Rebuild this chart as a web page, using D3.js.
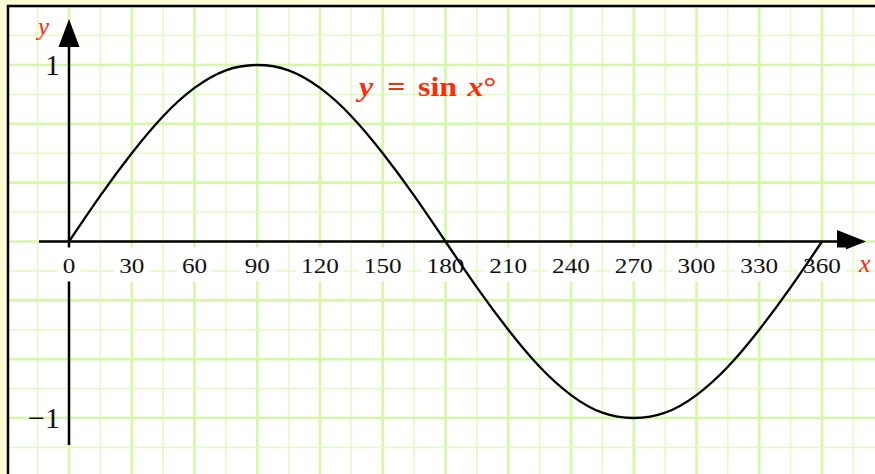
<!DOCTYPE html>
<html>
<head>
<meta charset="utf-8">
<script src="https://cdn.jsdelivr.net/npm/d3@7"></script>
<style>
  html, body { margin: 0; padding: 0; background: #fffcd4; }
  svg { display: block; }
</style>
</head>
<body>
<div id="chart"></div>
<script>
// data (degrees, sin value)
var angles = [0, 15, 30, 45, 60, 75, 90, 105, 120, 135, 150, 165, 180,
              195, 210, 225, 240, 255, 270, 285, 300, 315, 330, 345, 360];
var sinValues = [0, 0.26, 0.5, 0.71, 0.87, 0.97, 1, 0.97, 0.87, 0.71, 0.5, 0.26, 0,
                 -0.26, -0.5, -0.71, -0.87, -0.97, -1, -0.97, -0.87, -0.71, -0.5, -0.26, 0];
var xTicks = [0, 30, 60, 90, 120, 150, 180, 210, 240, 270, 300, 330, 360];
var yTicks = [1, -1];
var yTickLabels = ["1", "\u22121"];

var W = 875, H = 474;
var red = "#ff2a06";
var serif = "'Liberation Serif', 'Times New Roman', serif";

var svg = d3.select("#chart").append("svg")
    .attr("width", W)
    .attr("height", H);

// scales
var x = d3.scaleLinear().domain([0, 360]).range([69, 822]);
var y = d3.scaleLinear().domain([-1, 1]).range([418, 65]);

// paper area
svg.append("clipPath").attr("id", "paper")
  .append("rect").attr("x", 8).attr("y", 6).attr("width", W).attr("height", H);

var paper = svg.append("g").attr("clip-path", "url(#paper)");
paper.append("rect")
    .attr("x", 8).attr("y", 6).attr("width", W).attr("height", H)
    .attr("fill", "#ffffff");

// grid
var vLines = d3.range(-30, 391, 15);
paper.selectAll(".vgrid")
    .data(vLines)
  .enter().append("line")
    .attr("class", "vgrid")
    .attr("x1", function(d) { return x(d); })
    .attr("x2", function(d) { return x(d); })
    .attr("y1", 0).attr("y2", H)
    .attr("stroke", function(d) { return d % 30 == 0 ? "#d4f8a6" : "#e0fac0"; })
    .attr("stroke-width", function(d) { return d % 30 == 0 ? 2.6 : 1.5; });

var hLines = d3.range(-8, 9);
paper.selectAll(".hgrid")
    .data(hLines)
  .enter().append("line")
    .attr("class", "hgrid")
    .attr("y1", function(d) { return y(d / 6); })
    .attr("y2", function(d) { return y(d / 6); })
    .attr("x1", 0).attr("x2", W)
    .attr("stroke", function(d) { return d % 2 == 0 ? "#d4f8a6" : "#e0fac0"; })
    .attr("stroke-width", function(d) { return d % 2 == 0 ? 2.6 : 1.5; });

// border
svg.append("line").attr("x1", 8).attr("x2", 8).attr("y1", 5).attr("y2", H)
    .attr("stroke", "#000").attr("stroke-width", 2.5);
svg.append("line").attr("x1", 7).attr("x2", W).attr("y1", 6).attr("y2", 6)
    .attr("stroke", "#000").attr("stroke-width", 2.5);

// axes
var axes = svg.append("g");
axes.append("line")
    .attr("x1", 39).attr("x2", 840)
    .attr("y1", y(0)).attr("y2", y(0))
    .attr("stroke", "#000").attr("stroke-width", 2.5);
axes.append("path")
    .attr("d", "M837," + (y(0) - 11.5) + "L866," + y(0) + "L837," + (y(0) + 11.5) + "Z")
    .attr("fill", "#000");
axes.append("line")
    .attr("x1", x(0)).attr("x2", x(0))
    .attr("y1", 445).attr("y2", 44)
    .attr("stroke", "#000").attr("stroke-width", 2.5);
axes.append("path")
    .attr("d", "M" + (x(0) - 10.5) + ",47L" + x(0) + ",19L" + (x(0) + 10.5) + ",47Z")
    .attr("fill", "#000");

// x tick labels with white backing
var xLab = svg.append("g");
xTicks.forEach(function(t) {
    var g = xLab.append("g");
    var bg = g.append("rect").attr("fill", "#ffffff");
    var txt = g.append("text")
        .attr("transform", "translate(" + x(t) + "," + (y(0) + 31) + ") scale(1.2,1)")
        .attr("text-anchor", "middle")
        .attr("font-family", serif)
        .attr("font-size", "21px")
        .attr("fill", "#111")
        .text(t);
    var bb = txt.node().getBBox();
    var w = bb.width * 1.2;
    bg.attr("x", x(t) - w / 2 - 5)
      .attr("width", w + 10)
      .attr("y", y(0) + 6)
      .attr("height", 34);
});

// y tick labels
svg.selectAll(".ylab")
    .data(yTicks)
  .enter().append("text")
    .attr("class", "ylab")
    .attr("x", x(0) - 9)
    .attr("y", function(d) { return y(d) + 10; })
    .attr("text-anchor", "end")
    .attr("font-family", serif)
    .attr("font-size", "30px")
    .attr("fill", "#111")
    .text(function(d, i) { return yTickLabels[i]; });

// axis names
svg.append("text")
    .attr("x", 38).attr("y", 35)
    .attr("font-family", serif).attr("font-style", "italic")
    .attr("font-size", "25px").attr("fill", red)
    .text("y");
svg.append("text")
    .attr("x", 859).attr("y", 272)
    .attr("font-family", serif).attr("font-style", "italic")
    .attr("font-size", "26px").attr("fill", red)
    .text("x");

// sine curve
var line = d3.line()
    .x(function(d, i) { return x(angles[i]); })
    .y(function(d) { return y(d); })
    .curve(d3.curveNatural);

svg.append("path")
    .datum(sinValues)
    .attr("d", line)
    .attr("fill", "none")
    .attr("stroke", "#000")
    .attr("stroke-width", 2.3);

// formula label
var title = svg.append("text")
    .attr("transform", "translate(359,96) scale(1.18,1)")
    .attr("font-family", serif)
    .attr("font-weight", "bold")
    .attr("font-size", "27px")
    .attr("fill", red);
title.append("tspan").attr("x", 0).attr("font-style", "italic").text("y");
title.append("tspan").attr("x", 24).text("=");
title.append("tspan").attr("x", 50).text("sin");
title.append("tspan").attr("x", 92).attr("font-style", "italic").text("x");
title.append("tspan").text("\u00b0");
</script>
</body>
</html>
